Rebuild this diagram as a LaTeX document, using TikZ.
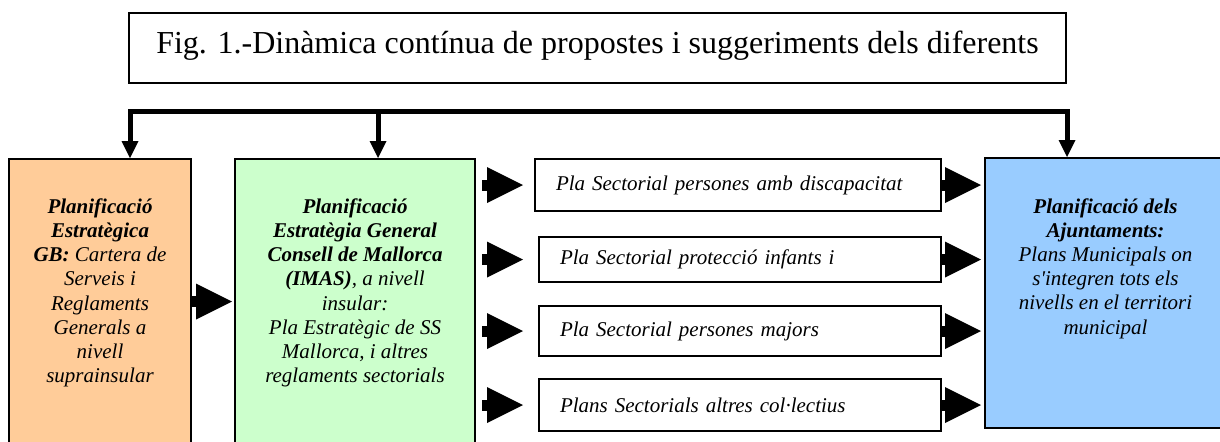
\documentclass[tikz,border=0pt]{standalone}
\usepackage{fontspec}
\setmainfont{Liberation Serif}[Ligatures=TeXOff]
\usetikzlibrary{arrows.meta,positioning}
\definecolor{gborange}{HTML}{FFCC99}
\definecolor{cmgreen}{HTML}{CCFFCC}
\definecolor{ajuntblue}{HTML}{99CCFF}
\begin{document}
\begin{tikzpicture}[x=0.5pt, y=-0.5pt,
                    every node/.style={font=\fontsize{10.5}{12.1}\selectfont\itshape},
                    bigbox/.style={draw, line width=1pt, inner sep=0pt},
                    boxtext/.style={align=center, inner sep=0pt},
                    sectorbox/.style={draw, line width=1pt, align=left, inner xsep=10.5pt, inner ysep=0pt, minimum height=#1},
                    blockarrow/.style={line width=5.5pt, >={Triangle[length=18pt, width=18pt, line width=0pt]}, ->},
                    busline/.style={line width=2.5pt, >={Triangle[length=8.5pt, width=8.5pt, line width=0pt]}}]
      \useasboundingbox (0,0) rectangle (1220,441);
      \clip (0,0) rectangle (1220,441);
      \coordinate (busleft) at (130,111);
      \coordinate (busmid) at (378,111);
      \coordinate (busright) at (1067,111);
      \node[draw, line width=0.6pt, minimum width=468.5pt, minimum height=35pt] (titlebox) at (597.5,48) {};
      \node[boxtext, font=\fontsize{16}{19}\selectfont, below=9pt of titlebox.north] (titletxt) {Fig. 1.-Dinàmica contínua de propostes i suggeriments dels diferents};
      \node[bigbox, fill=gborange, minimum width=91pt, minimum height=142.5pt] (gb) at (100,301.5) {};
      \node[bigbox, fill=cmgreen, minimum width=120pt, minimum height=142.5pt] (cm) at (355,301.5) {};
      \node[bigbox, fill=ajuntblue, minimum width=120.5pt, minimum height=135pt] (ajunt) at (1105.5,293) {};
      \node[boxtext, below=20pt of gb.north] (gbtxt) {\textbf{Planificació}\\\textbf{Estratègica}\\\textbf{GB:} Cartera de\\Serveis i\\Reglaments\\Generals a\\nivell\\suprainsular};
      \node[boxtext, below=20pt of cm.north] (cmtxt) {\textbf{Planificació}\\\textbf{Estratègia General}\\\textbf{Consell de Mallorca}\\\textbf{(IMAS)}, a nivell\\insular:\\Pla Estratègic de SS\\Mallorca, i altres\\reglaments sectorials};
      \node[boxtext, below=20.5pt of ajunt.north] (ajunttxt) {\textbf{Planificació dels}\\\textbf{Ajuntaments:}\\Plans Municipals on\\s'integren tots els\\nivells en el territori\\municipal};
      \node[sectorbox=26pt, text width=182pt] (sec1) at (738,185) {Pla Sectorial persones amb discapacitat};
      \node[sectorbox=22.5pt, text width=180pt] (sec2) at (740,259.5) {Pla Sectorial protecció infants i};
      \node[sectorbox=25pt, text width=180pt] (sec3) at (740,331) {Pla Sectorial persones majors};
      \node[sectorbox=26pt, text width=180pt] (sec4) at (740,405) {Plans Sectorials altres col·lectius};
      \draw[busline, <->] (gb.north -| busleft) -- (busleft) -- (busright) -- (ajunt.north -| busright);
      \draw[busline, ->] (busmid) -- (cm.north -| busmid);
      \draw[blockarrow, shorten >=1pt] (gb.east) -- (cm.west);
      \foreach \s/\gap in {sec1/5.5pt, sec2/7.5pt, sec3/7.5pt, sec4/7.5pt}
        \draw[blockarrow, shorten <=3pt, shorten >=\gap] (cm.east |- \s.west) -- (\s.west);
      \foreach \s in {sec1, sec2, sec3, sec4}
        \draw[blockarrow, shorten >=1.5pt] (\s.east) -- (\s.east -| ajunt.west);
    \end{tikzpicture}
\end{document}
